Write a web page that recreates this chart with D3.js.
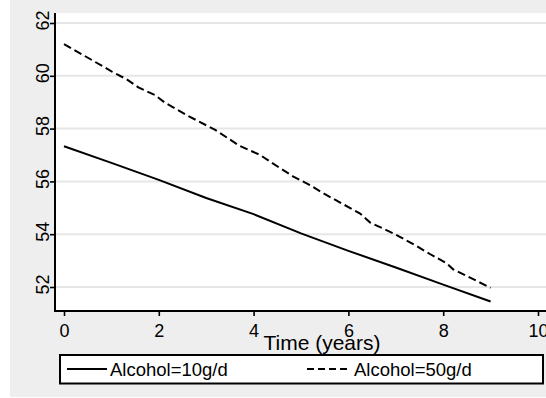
<!DOCTYPE html>
<html>
<head>
<meta charset="utf-8">
<script src="https://cdn.jsdelivr.net/npm/d3@7"></script>
<style>
  html, body { margin: 0; padding: 0; background: #ffffff; overflow: hidden; }
  svg { display: block; font-family: "Liberation Sans", Arial, Helvetica, sans-serif; }
</style>
</head>
<body>
<svg id="chart" width="546" height="398"></svg>
<script>
// Predicted outcome over time for two alcohol intake levels
const xTicks = [0, 2, 4, 6, 8, 10];
const yTicks = [52, 54, 56, 58, 60, 62];

const timeLow = [0, 1, 2, 3, 4, 5, 6, 7, 8, 9];
const alcohol10 = [57.33, 56.70, 56.06, 55.37, 54.76, 54.03, 53.37, 52.74, 52.09, 51.45];

const timeHigh = [0, 0.44, 1.01, 1.32, 1.57, 1.92, 2.13, 2.62, 3.19, 3.71, 4.14, 4.38, 4.84,
  5.19, 5.47, 6.24, 6.46, 6.95, 7.44, 7.72, 8.07, 8.21, 9];
const alcohol50 = [61.2, 60.75, 60.16, 59.87, 59.56, 59.27, 58.98, 58.48, 57.95, 57.34, 57.0, 56.71, 56.18,
  55.86, 55.55, 54.79, 54.44, 54.03, 53.55, 53.25, 52.9, 52.67, 51.97];

const legendLabels = ["Alcohol=10g/d", "Alcohol=50g/d"];
const xTitle = "Time (years)";

const svg = d3.select("#chart");
const W = 546, H = 398;

// outer panel
svg.append("rect").attr("x", 10).attr("y", 0).attr("width", W - 10).attr("height", 397)
  .attr("fill", "#eeeeee");

const plot = { left: 55, top: 13, right: 600, bottom: 311 };
svg.append("rect").attr("x", plot.left).attr("y", plot.top)
  .attr("width", plot.right - plot.left).attr("height", plot.bottom - plot.top)
  .attr("fill", "#ffffff");

const x = d3.scaleLinear().domain([0, 10]).range([64, 538]);
const y = d3.scaleLinear().domain([52, 62]).range([287, 23]);

// gridlines
svg.append("g").selectAll("line").data(yTicks).join("line")
  .attr("x1", plot.left).attr("x2", plot.right)
  .attr("y1", d => y(d)).attr("y2", d => y(d))
  .attr("stroke", "#e6e6e6").attr("stroke-width", 2);

// y axis
const yAxis = svg.append("g").attr("transform", `translate(${plot.left},0)`)
  .call(d3.axisLeft(y).tickValues(yTicks).tickSize(5).tickPadding(6).tickFormat(d3.format("d")));
yAxis.select(".domain").remove();
yAxis.append("line").attr("x1", 0).attr("x2", 0).attr("y1", plot.top).attr("y2", plot.bottom + 1)
  .attr("stroke", "#000").attr("stroke-width", 2);
yAxis.selectAll(".tick line").attr("stroke", "#000").attr("stroke-width", 1.6);
yAxis.selectAll(".tick text")
  .attr("x", null).attr("dy", null)
  .attr("text-anchor", "middle")
  .attr("transform", "translate(-6,-3) rotate(-90)")
  .attr("font-size", 18).attr("fill", "#000")
  .attr("font-family", "Liberation Sans, Arial, sans-serif");

// x axis
const xAxis = svg.append("g").attr("transform", `translate(0,${plot.bottom})`)
  .call(d3.axisBottom(x).tickValues(xTicks).tickSize(5).tickPadding(6).tickFormat(d3.format("d")));
xAxis.select(".domain").remove();
xAxis.append("line").attr("x1", plot.left - 1).attr("x2", plot.right).attr("y1", 0).attr("y2", 0)
  .attr("stroke", "#000").attr("stroke-width", 2);
xAxis.selectAll(".tick line").attr("stroke", "#000").attr("stroke-width", 1.6);
xAxis.selectAll(".tick text")
  .attr("y", 26).attr("dy", null)
  .attr("font-size", 18).attr("fill", "#000")
  .attr("font-family", "Liberation Sans, Arial, sans-serif");

// axis title
svg.append("text").attr("x", 322).attr("y", 350).attr("text-anchor", "middle")
  .attr("font-size", 21).attr("fill", "#000").text(xTitle);

// lines
const line = d3.line().x(d => x(d[0])).y(d => y(d[1]));
svg.append("path").datum(d3.zip(timeLow, alcohol10)).attr("d", line)
  .attr("fill", "none").attr("stroke", "#000").attr("stroke-width", 2);
svg.append("path").datum(d3.zip(timeHigh, alcohol50)).attr("d", line)
  .attr("fill", "none").attr("stroke", "#000").attr("stroke-width", 2)
  .attr("stroke-dasharray", "8,4");

// legend
const lg = svg.append("g");
lg.append("rect").attr("x", 60).attr("y", 355).attr("width", 483).attr("height", 28.5)
  .attr("fill", "#fff").attr("stroke", "#000").attr("stroke-width", 2);
const legendItems = [
  { x0: 67, x1: 107, tx: 110, dash: null, label: legendLabels[0] },
  { x0: 307, x1: 348, tx: 354, dash: "7,4", label: legendLabels[1] }
];
legendItems.forEach(it => {
  lg.append("line").attr("x1", it.x0).attr("x2", it.x1).attr("y1", 369).attr("y2", 369)
    .attr("stroke", "#000").attr("stroke-width", 2)
    .attr("stroke-dasharray", it.dash);
  lg.append("text").attr("x", it.tx).attr("y", 376).attr("font-size", 18.5)
    .attr("fill", "#000").text(it.label);
});
</script>
</body>
</html>
